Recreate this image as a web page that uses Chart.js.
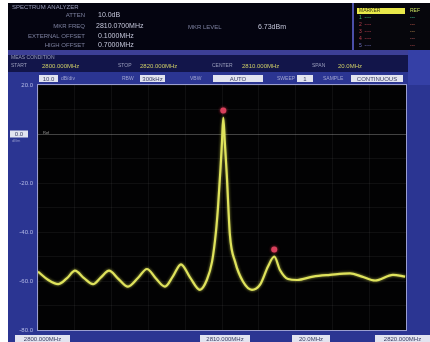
<!DOCTYPE html>
<html><head><meta charset="utf-8">
<script src="https://cdn.jsdelivr.net/npm/chart.js@4.4.1/dist/chart.umd.min.js"></script>
<style>html,body{margin:0;padding:0;background:#fff;overflow:hidden}canvas{display:block}</style>
</head><body><canvas id="c" width="430" height="342"></canvas>
<script>
// Sweep: frequency (MHz) and measured level (dBm)
const freqMHz = [2800.00, 2800.54, 2801.09, 2801.58, 2802.01, 2802.50, 2802.99, 2803.42, 2803.86, 2804.35,
  2804.89, 2805.43, 2805.92, 2806.41, 2806.90, 2807.34, 2807.77, 2808.26, 2808.80, 2809.18,
  2809.46, 2809.67, 2809.78, 2809.92, 2810.00, 2810.07, 2810.15, 2810.26, 2810.43, 2810.71,
  2811.14, 2811.63, 2812.07, 2812.50, 2812.84, 2813.15, 2813.59, 2814.08, 2814.95, 2815.87,
  2816.96, 2817.61, 2818.32, 2819.29, 2819.95];
const levelDbm = [-56.2, -59.5, -61.3, -58.8, -55.8, -58.8, -61.3, -58.5, -55.8, -59.0,
  -62.3, -58.8, -55.1, -59.0, -62.3, -58.0, -53.2, -58.5, -63.6, -59.5,
  -52.1, -40.0, -30.2, -14.0, -3.1, 6.73, -3.0, -16.7, -41.2, -52.1,
  -60.2, -63.6, -61.5, -54.1, -50.0, -55.5, -59.2, -59.6, -58.2, -57.5,
  -56.9, -58.2, -59.8, -57.5, -58.2];
// Peak markers
const markerFreq = [2810.07, 2812.84];
const markerLevel = [6.73, -50.0];
// Axis settings
const startMHz = 2800, stopMHz = 2820, spanMHz = 20;
const refLevel = 20, bottomLevel = -80, dbPerDiv = 10;
const levelTickLabels = [20, -20, -40, -60, -80];

const FONT = '"Liberation Sans", "DejaVu Sans", sans-serif';

function txt(ctx, s, x, y, color, size, align) {
  ctx.font = (size || 6) + 'px ' + FONT;
  ctx.fillStyle = color;
  ctx.textAlign = align || 'left';
  ctx.textBaseline = 'middle';
  ctx.fillText(s, x, y);
}
function box(ctx, x, y, w, h, s) {
  ctx.fillStyle = '#e2e4f0';
  ctx.fillRect(x, y, w, h);
  txt(ctx, s, x + w / 2, y + h / 2 + 0.5, '#3a3e64', 6, 'center');
}

// Analyzer screen: panels, header readouts, frame
const screenPanels = {
  id: 'screenPanels',
  beforeDraw(chart) {
    const ctx = chart.ctx;
    ctx.save();
    ctx.fillStyle = '#ffffff';
    ctx.fillRect(0, 0, 430, 342);
    // screen body
    ctx.fillStyle = '#2b3592';
    ctx.fillRect(8, 3, 422, 339);
    // header
    ctx.fillStyle = '#040410';
    ctx.fillRect(8, 3, 344, 48);
    ctx.fillStyle = '#06060c';
    ctx.fillRect(354, 3, 76, 48);
    ctx.fillStyle = '#4a4fa8';
    ctx.fillRect(352, 3, 2, 48);
    ctx.fillStyle = '#3c3f96';
    ctx.fillRect(8, 50, 400, 5);
    ctx.fillStyle = '#12154a';
    ctx.fillRect(8, 55, 400, 17);
    ctx.fillStyle = '#3540a6';
    ctx.fillRect(408, 50, 22, 35);

    txt(ctx, 'SPECTRUM ANALYZER', 12, 7, '#9a9ebc', 6);
    const lab = '#7e82a0', val = '#c4c6da';
    txt(ctx, 'ATTEN', 85, 15, lab, 6, 'right');
    txt(ctx, '10.0dB', 98, 15, val, 7);
    txt(ctx, 'MKR FREQ', 85, 26, lab, 6, 'right');
    txt(ctx, '2810.0700MHz', 96, 26, val, 7);
    txt(ctx, 'EXTERNAL OFFSET', 85, 36, lab, 6, 'right');
    txt(ctx, '0.1000MHz', 98, 36, val, 7);
    txt(ctx, 'HIGH OFFSET', 85, 45, lab, 6, 'right');
    txt(ctx, '0.7000MHz', 98, 45, val, 7);
    txt(ctx, 'MKR LEVEL', 188, 27, lab, 6);
    txt(ctx, markerLevel[0].toFixed(2) + 'dBm', 258, 27, val, 7);

    // marker table
    ctx.fillStyle = '#e8e84a';
    ctx.fillRect(357, 8, 48, 6);
    txt(ctx, 'MARKER', 359, 11, '#404010', 5);
    txt(ctx, 'REF', 410, 11, '#c8e060', 5);
    const rows = [['#40c070', '#40d0a0'], ['#c04050', '#d06050'], ['#c04050', '#c09050'], ['#c04050', '#c06060'], ['#7070c0', '#c05050']];
    rows.forEach((r, i) => {
      txt(ctx, (i + 1) + '  ----', 359, 18 + i * 7, r[0], 5);
      txt(ctx, '---', 410, 18 + i * 7, r[1], 5);
    });

    // measurement condition
    txt(ctx, 'MEAS CONDITION', 11, 58, '#9a9ebc', 5);
    txt(ctx, 'START', 11, 66, '#9a9ebc', 5);
    txt(ctx, startMHz.toFixed(3) + 'MHz', 42, 66, '#cccc66', 6);
    txt(ctx, 'STOP', 118, 66, '#9a9ebc', 5);
    txt(ctx, stopMHz.toFixed(3) + 'MHz', 140, 66, '#cccc66', 6);
    txt(ctx, 'CENTER', 212, 66, '#9a9ebc', 5);
    txt(ctx, ((startMHz + stopMHz) / 2).toFixed(3) + 'MHz', 242, 66, '#cccc66', 6);
    txt(ctx, 'SPAN', 312, 66, '#9a9ebc', 5);
    txt(ctx, spanMHz.toFixed(1) + 'MHz', 338, 66, '#cccc66', 6);

    // settings row
    box(ctx, 39, 75, 19, 7, dbPerDiv.toFixed(1));
    txt(ctx, 'dB/div', 61, 78.5, '#a0a4d0', 5);
    txt(ctx, 'RBW', 122, 78.5, '#a0a4d0', 5);
    box(ctx, 140, 75, 25, 7, '300kHz');
    txt(ctx, 'VBW', 190, 78.5, '#a0a4d0', 5);
    box(ctx, 213, 75, 50, 7, 'AUTO');
    txt(ctx, 'SWEEP', 277, 78.5, '#a0a4d0', 5);
    box(ctx, 297, 75, 16, 7, '1');
    txt(ctx, 'SAMPLE', 323, 78.5, '#a0a4d0', 5);
    box(ctx, 351, 75, 52, 7, 'CONTINUOUS');

    // plot area
    const a = chart.chartArea;
    ctx.fillStyle = '#020203';
    ctx.fillRect(a.left, a.top, a.right - a.left, a.bottom - a.top);

    // bottom readouts
    box(ctx, 15, 335, 55, 7, startMHz.toFixed(3) + 'MHz');
    box(ctx, 200, 335, 50, 7, ((startMHz + stopMHz) / 2).toFixed(3) + 'MHz');
    box(ctx, 292, 335, 38, 7, spanMHz.toFixed(1) + 'MHz');
    box(ctx, 375, 335, 55, 7, stopMHz.toFixed(3) + 'MHz');
    ctx.restore();
  },
  beforeDatasetsDraw(chart) {
    chart.ctx.save();
    chart.ctx.shadowColor = 'rgba(230,235,90,0.7)';
    chart.ctx.shadowBlur = 3;
  },
  afterDatasetsDraw(chart) {
    chart.ctx.restore();
  },
  afterDraw(chart) {
    const ctx = chart.ctx, a = chart.chartArea;
    const xs = chart.scales.x, ys = chart.scales.y;
    ctx.save();
    // frame
    ctx.strokeStyle = '#9a9ed0';
    ctx.lineWidth = 1;
    ctx.strokeRect(a.left - 0.5, a.top - 0.5, a.right - a.left + 1, a.bottom - a.top + 1);
    // reference level box
    const y0 = ys.getPixelForValue(0);
    box(ctx, 10, y0 - 3.5, 18, 7, '0.0');
    txt(ctx, 'dBm', 12, y0 + 7, '#8c92c8', 4);
    txt(ctx, 'Ref', a.left + 5, y0 - 1, '#9a9a9a', 4);
    // peak markers
    ctx.shadowColor = 'rgba(255,60,90,0.8)';
    ctx.shadowBlur = 3;
    ctx.fillStyle = '#d8405c';
    markerFreq.forEach((f, i) => {
      const x = xs.getPixelForValue(f);
      const y = ys.getPixelForValue(markerLevel[i]) - 7;
      ctx.beginPath();
      ctx.arc(x, y, 3, 0, Math.PI * 2);
      ctx.fill();
    });
    ctx.restore();
  }
};

new Chart(document.getElementById('c'), {
  type: 'line',
  data: {
    labels: freqMHz,
    datasets: [{
      data: freqMHz.map((f, i) => ({ x: f, y: levelDbm[i] })),
      borderColor: '#dfe35c',
      borderWidth: 2.2,
      pointRadius: 0,
      cubicInterpolationMode: 'monotone',
      fill: false
    }]
  },
  options: {
    responsive: false,
    devicePixelRatio: 1,
    animation: false,
    events: [],
    layout: { padding: { left: 8, right: 24, top: 85, bottom: 12 } },
    plugins: { legend: { display: false }, tooltip: { enabled: false } },
    scales: {
      x: {
        type: 'linear',
        min: startMHz, max: stopMHz,
        afterFit(s) { s.height = 0; },
        border: { display: false },
        grid: { color: 'rgba(150,150,150,0.09)', drawTicks: false },
        ticks: { display: false, stepSize: spanMHz / 10 }
      },
      y: {
        min: bottomLevel, max: refLevel,
        afterFit(s) { s.width = 30; },
        border: { display: false },
        grid: {
          drawTicks: false,
          color: c => c.tick && c.tick.value === 0 ? 'rgba(190,190,190,0.35)' : 'rgba(150,150,150,0.09)'
        },
        ticks: {
          stepSize: dbPerDiv,
          padding: 5,
          color: '#b4bae6',
          font: { family: FONT, size: 6 },
          callback: v => levelTickLabels.includes(v) ? v.toFixed(1) : ''
        }
      }
    }
  },
  plugins: [screenPanels]
});
</script>
</body></html>
